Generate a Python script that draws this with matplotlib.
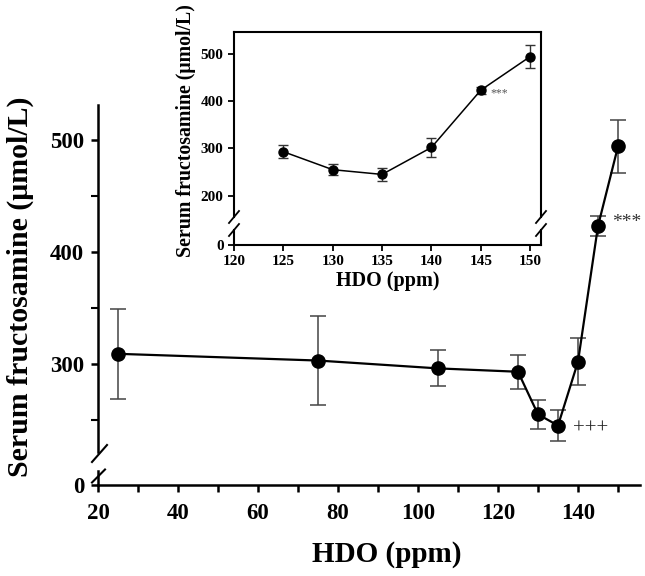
import matplotlib
matplotlib.use("Agg")
import matplotlib.pyplot as plt
from matplotlib.ticker import MultipleLocator, FixedLocator

plt.rcParams["font.family"] = ["Liberation Serif", "DejaVu Serif"]
plt.rcParams["font.weight"] = "bold"

# data
hdo = [25, 75, 105, 125, 130, 135, 140, 145, 150]
fructosamine = [309, 303, 296, 293, 255, 245, 302, 423, 494]
sem = [40, 40, 16, 15, 13, 14, 21, 9, 24]

inset_hdo = hdo[3:]
inset_fruct = fructosamine[3:]
inset_sem = [14, 12, 14, 21, 7, 24]

W, H = 645, 576
fig = plt.figure(figsize=(W / 100, H / 100), dpi=100)


def rect(l, t, r, b):
    return [l / W, 1 - b / H, (r - l) / W, (b - t) / H]


def slash(x, y, dx, dy, lw=1.5):
    # small diagonal break mark, given in pixels
    fig.add_artist(plt.Line2D([(x - dx) / W, (x + dx) / W],
                              [1 - (y + dy) / H, 1 - (y - dy) / H],
                              transform=fig.transFigure, color="black", lw=lw))


# ---- main panel (broken y axis) ----
top = fig.add_axes(rect(98, 105, 640, 452))
bot = fig.add_axes(rect(98, 471, 640, 485))

for ax in (top, bot):
    ax.set_xlim(20, 155.5)
    ax.spines["top"].set_visible(False)
    ax.spines["right"].set_visible(False)
    ax.spines["left"].set_linewidth(1.8)
    ax.spines["bottom"].set_linewidth(1.8)
    ax.tick_params(width=1.8, length=5, labelsize=16.5)
    ax.tick_params(axis="y", pad=5)
    ax.patch.set_alpha(0)

top.set_ylim(221.4, 531)
top.spines["bottom"].set_visible(False)
top.tick_params(axis="x", which="both", bottom=False, labelbottom=False)
top.yaxis.set_major_locator(MultipleLocator(100))
top.yaxis.set_minor_locator(FixedLocator([250, 350, 450]))
top.tick_params(axis="y", which="minor", width=1.5, length=5)

bot.set_ylim(0, 12.5)
bot.set_yticks([0])
bot.xaxis.set_minor_locator(MultipleLocator(10))
bot.tick_params(axis="x", which="minor", width=1.8, length=5)
bot.set_xticks(range(20, 141, 20))
bot.tick_params(axis="x", pad=8)

top.errorbar(hdo, fructosamine, yerr=sem, fmt="o-", color="black",
             ms=9.5, lw=1.6, ecolor="#444444", elinewidth=1.1, capsize=5.5,
             capthick=1.1, clip_on=False, zorder=3)
top.text(138.7, 242, "+++", fontsize=15, va="center", ha="left",
         color="#222222", fontweight="normal")
top.text(148.4, 426, "***", fontsize=14, va="center", ha="left",
         color="#333333", fontweight="normal", clip_on=False)

fig.text(387 / W, 1 - 555 / H, "HDO (ppm)", fontsize=21, fontweight="bold",
         ha="center", va="center")
fig.text(20 / W, 1 - 287 / H, "Serum fructosamine (\u03bcmol/L)", rotation=90,
         fontsize=21.5, fontweight="bold", ha="center", va="center")

slash(99.5, 453.5, 7.5, 8.5)
slash(98.5, 476, 6.5, 6.5)

# ---- inset ----
itop = fig.add_axes(rect(234, 32, 541, 217))
ibot = fig.add_axes(rect(234, 230, 541, 245))
for ax in (itop, ibot):
    ax.set_xlim(120, 151.1)
    ax.set_facecolor("white")
    for s in ax.spines.values():
        s.set_linewidth(1.5)
    ax.tick_params(width=1.3, length=4, labelsize=11)

itop.set_ylim(155, 546)
itop.spines["bottom"].set_visible(False)
itop.tick_params(axis="x", bottom=False, labelbottom=False)
itop.set_yticks([200, 300, 400, 500])

ibot.set_ylim(0, 32)
ibot.spines["top"].set_visible(False)
ibot.set_yticks([0])
ibot.set_xticks(range(120, 151, 5))
ibot.set_xlabel("HDO (ppm)", fontsize=14.5, fontweight="bold", labelpad=2)

itop.errorbar(inset_hdo, inset_fruct, yerr=inset_sem, fmt="o-", color="black",
              ms=6.5, lw=1.1, ecolor="#333333", elinewidth=1.0, capsize=3.5,
              capthick=1.0, zorder=3)
itop.text(146.0, 417, "***", fontsize=8.5, va="center", ha="left",
          color="#555555", fontweight="normal")

fig.text(186 / W, 1 - 131 / H, "Serum fructosamine (\u03bcmol/L)", rotation=90,
         fontsize=14.3, fontweight="bold", ha="center", va="center")

for xs in (234, 541):
    slash(xs, 217, 5, 6, lw=1.3)
    slash(xs, 230, 5, 6, lw=1.3)

fig.savefig("out.png", dpi=100)
